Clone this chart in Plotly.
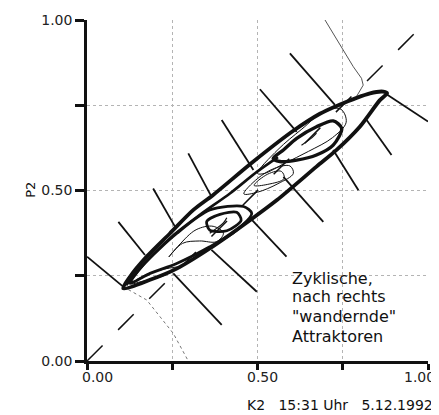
import plotly.graph_objects as go

# ---- data ----
tick_vals = [0.0, 0.25, 0.5, 0.75, 1.0]
y_tick_text = ["0.00", "", "0.50", "", "1.00"]
x_tick_labels = ["0.00", "0.50", "1.00"]
x_tick_label_pos = [0.03, 0.515, 0.975]

# outer thick envelope of the attractors
env_x = [0.106, 0.126, 0.175, 0.243, 0.312, 0.370, 0.488, 0.605, 0.683, 0.732, 0.830, 0.869, 0.880,
         0.859, 0.800, 0.732, 0.673, 0.557, 0.478, 0.360, 0.263, 0.185, 0.106]
env_y = [0.213, 0.247, 0.306, 0.374, 0.443, 0.487, 0.585, 0.675, 0.725, 0.748, 0.785, 0.790, 0.785,
         0.765, 0.687, 0.619, 0.570, 0.472, 0.413, 0.330, 0.271, 0.238, 0.213]
# second thick stroke just inside the upper edge
env2_x = [0.115, 0.170, 0.250, 0.330, 0.420, 0.500, 0.560]
env2_y = [0.222, 0.287, 0.366, 0.428, 0.492, 0.556, 0.598]

# lower-left attractor loop
lowA_x = [0.126, 0.165, 0.263, 0.360, 0.459, 0.483, 0.439, 0.360, 0.263, 0.185, 0.126]
lowA_y = [0.228, 0.282, 0.374, 0.443, 0.453, 0.433, 0.384, 0.335, 0.286, 0.257, 0.228]
lowB_x = [0.351, 0.390, 0.439, 0.452, 0.410, 0.360, 0.351]
lowB_y = [0.409, 0.430, 0.436, 0.413, 0.382, 0.384, 0.409]

# upper-right attractor loop
upA_x = [0.546, 0.576, 0.615, 0.673, 0.722, 0.747, 0.722, 0.673, 0.615, 0.566, 0.546]
upA_y = [0.594, 0.619, 0.653, 0.687, 0.704, 0.682, 0.633, 0.604, 0.589, 0.585, 0.594]

# thin inner trajectories
thin1_x = [0.50, 0.56, 0.63, 0.70, 0.745, 0.760, 0.72, 0.65, 0.58, 0.52, 0.50]
thin1_y = [0.55, 0.62, 0.68, 0.735, 0.738, 0.700, 0.655, 0.615, 0.580, 0.550, 0.55]
thin2_x = [0.46, 0.50, 0.55, 0.595, 0.605, 0.56, 0.50, 0.46]
thin2_y = [0.49, 0.535, 0.565, 0.572, 0.550, 0.520, 0.495, 0.49]
thin3_x = [0.49, 0.53, 0.57, 0.578, 0.53, 0.49]
thin3_y = [0.515, 0.548, 0.556, 0.535, 0.518, 0.515]
thin4_x = [0.13, 0.17, 0.22, 0.27, 0.22, 0.16, 0.13]
thin4_y = [0.226, 0.252, 0.268, 0.275, 0.248, 0.233, 0.226]
thin5_x = [0.24, 0.28, 0.33, 0.38, 0.40, 0.37, 0.32, 0.27, 0.24]
thin5_y = [0.305, 0.345, 0.352, 0.350, 0.375, 0.395, 0.385, 0.340, 0.305]
stroke1_x = [0.36, 0.40, 0.41]
stroke1_y = [0.375, 0.405, 0.420]
stroke2_x = [0.629, 0.660, 0.673]
stroke2_y = [0.633, 0.655, 0.668]

# crossing (isocline) segments: [x0, y0, x1, y1]
cross_segs = [
    [0.092, 0.408, 0.170, 0.311], [0.253, 0.257, 0.395, 0.106],
    [0.194, 0.506, 0.258, 0.394], [0.365, 0.326, 0.498, 0.203],
    [0.297, 0.609, 0.365, 0.482], [0.478, 0.420, 0.585, 0.306],
    [0.395, 0.707, 0.488, 0.560], [0.576, 0.540, 0.693, 0.408],
    [0.507, 0.797, 0.615, 0.672], [0.722, 0.619, 0.796, 0.501],
    [0.595, 0.902, 0.727, 0.751], [0.820, 0.707, 0.893, 0.604],
    [0.874, 0.785, 1.000, 0.702], [0.000, 0.306, 0.106, 0.218],
]

# separatrix-like thin lines
sep_top_x = [0.698, 0.752, 0.781, 0.805, 0.810, 0.790]
sep_top_y = [1.000, 0.912, 0.863, 0.829, 0.809, 0.775]
sep_bot_x = [0.106, 0.175, 0.253, 0.297]
sep_bot_y = [0.218, 0.179, 0.081, 0.000]

diag = [0.0, 1.0]

label_lines = ["Zyklische,", "nach rechts", "\"wandernde\"", "Attraktoren"]
label_y = [0.243, 0.188, 0.130, 0.072]

# ---- figure ----
fig = go.Figure()
BLACK = "#111111"
FONT = "DejaVu Sans"

fig.add_trace(go.Scatter(x=diag, y=diag, mode="lines",
                         line=dict(color=BLACK, width=1.5, dash="22px,22px")))

cx, cy = [], []
for s in cross_segs:
    cx += [s[0], s[2], None]
    cy += [s[1], s[3], None]
fig.add_trace(go.Scatter(x=cx, y=cy, mode="lines", line=dict(color=BLACK, width=1.8)))

fig.add_trace(go.Scatter(x=sep_top_x, y=sep_top_y, mode="lines",
                         line=dict(color="#555555", width=1)))
fig.add_trace(go.Scatter(x=sep_bot_x, y=sep_bot_y, mode="lines",
                         line=dict(color="#777777", width=1, dash="dot")))

for xs, ys, w in [(thin1_x, thin1_y, 1.0), (thin2_x, thin2_y, 1.0), (thin3_x, thin3_y, 1.0),
                  (thin4_x, thin4_y, 1.0), (thin5_x, thin5_y, 1.0),
                  (stroke1_x, stroke1_y, 1.2), (stroke2_x, stroke2_y, 1.2)]:
    fig.add_trace(go.Scatter(x=xs, y=ys, mode="lines", line=dict(color=BLACK, width=w, shape="spline")))

for xs, ys, w in [(env_x, env_y, 3.8), (env2_x, env2_y, 2.6), (lowA_x, lowA_y, 2.8),
                  (lowB_x, lowB_y, 2.8), (upA_x, upA_y, 3.4)]:
    fig.add_trace(go.Scatter(x=xs, y=ys, mode="lines",
                             line=dict(color=BLACK, width=w, shape="spline", smoothing=0.8)))

for t, yv in zip(label_lines, label_y):
    fig.add_annotation(x=0.595, y=yv, xref="x", yref="y", text=t, showarrow=False,
                       xanchor="left", yanchor="middle",
                       font=dict(family=FONT, size=16, color=BLACK))

for t, xv in zip(x_tick_labels, x_tick_label_pos):
    fig.add_annotation(x=xv, y=-0.047, xref="x", yref="paper", text=t, showarrow=False,
                       xanchor="center", yanchor="middle",
                       font=dict(family=FONT, size=14, color="#222222"))

fig.add_annotation(x=-0.196, y=0.501, xref="paper", yref="paper", text="P2", showarrow=False,
                   textangle=-90, font=dict(family=FONT, size=13, color=BLACK))
fig.add_annotation(x=1.02, y=-0.129, xref="paper", yref="paper",
                   text="K2&nbsp;&nbsp;&nbsp;15:31 Uhr&nbsp;&nbsp;&nbsp;5.12.1992",
                   showarrow=False, xanchor="right", yanchor="middle",
                   font=dict(family=FONT, size=14, color=BLACK))

axis_common = dict(range=[0, 1], tickvals=tick_vals, automargin=False,
                   showgrid=True, gridcolor="#b4b4b4", griddash="dot", gridwidth=1,
                   zeroline=False, showline=True, linecolor=BLACK, linewidth=2.5,
                   ticks="outside", tickcolor=BLACK, tickwidth=2.5,
                   tickfont=dict(family=FONT, size=14, color="#222222"))
fig.update_xaxes(**axis_common, ticklen=6, ticktext=[""] * 5)
fig.update_yaxes(**axis_common, ticklen=9, ticktext=y_tick_text)

# the page body adds an 8px offset, so the figure is 8px smaller than the window
fig.update_layout(width=431, height=407, margin=dict(l=79, r=11, t=12, b=54),
                  paper_bgcolor="white", plot_bgcolor="white", showlegend=False)

fig.write_html("out.html")
